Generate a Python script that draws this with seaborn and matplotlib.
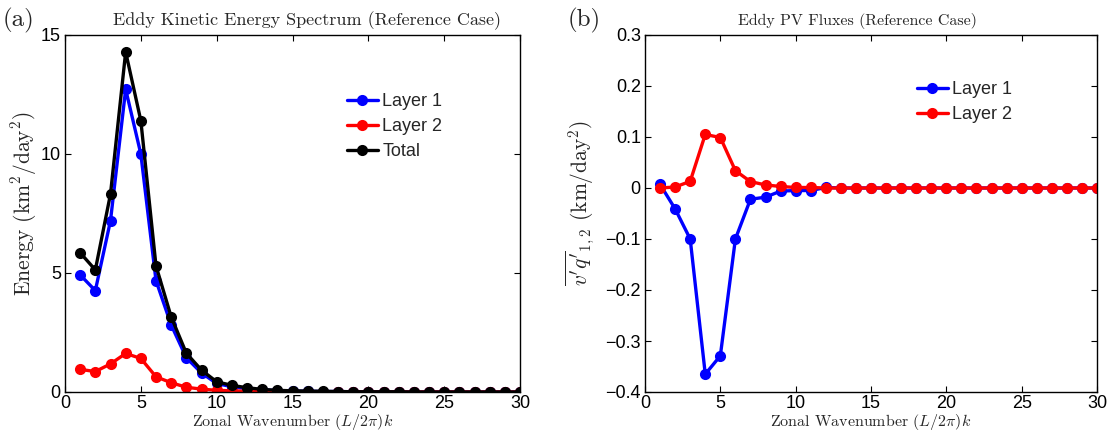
import numpy as np
import pandas as pd
import seaborn as sns
import matplotlib
matplotlib.use("Agg")
import matplotlib.pyplot as plt

sns.set_theme(style="white")
plt.rcParams['font.family'] = ['Liberation Sans', 'DejaVu Sans']
plt.rcParams['mathtext.fontset'] = 'cm'
plt.rcParams['axes.unicode_minus'] = True

k = list(range(1, 31))

# Panel (a): eddy kinetic energy spectrum
ke_layer1 = [4.92, 4.26, 7.20, 12.72, 10.0, 4.68, 2.82, 1.44, 0.80, 0.36, 0.22, 0.14, 0.09, 0.06,
             0.04, 0.03, 0.02, 0.02, 0.01, 0.01, 0.01, 0.01, 0.0, 0.0, 0.0, 0.0, 0.0, 0.0, 0.0, 0.0]
ke_layer2 = [0.95, 0.86, 1.18, 1.62, 1.41, 0.64, 0.39, 0.20, 0.12, 0.07, 0.05, 0.03, 0.02, 0.01,
             0.01, 0.01, 0.0, 0.0, 0.0, 0.0, 0.0, 0.0, 0.0, 0.0, 0.0, 0.0, 0.0, 0.0, 0.0, 0.0]
ke_total = [5.85, 5.13, 8.32, 14.29, 11.40, 5.30, 3.16, 1.63, 0.92, 0.43, 0.28, 0.18, 0.11, 0.07,
            0.05, 0.04, 0.03, 0.02, 0.01, 0.01, 0.01, 0.01, 0.0, 0.0, 0.0, 0.0, 0.0, 0.0, 0.0, 0.0]

# Panel (b): eddy PV fluxes
pv_layer1 = [0.007, -0.041, -0.100, -0.365, -0.329, -0.100, -0.022, -0.018, -0.006, -0.005, -0.005,
             0.001, 0.0, 0.0, 0.0, 0.0, 0.0, 0.0, 0.0, 0.0, 0.0, 0.0, 0.0, 0.0, 0.0, 0.0, 0.0, 0.0, 0.0, 0.0]
pv_layer2 = [0.0, 0.002, 0.013, 0.105, 0.099, 0.034, 0.0125, 0.006, 0.003, 0.001, 0.001,
             0.0, 0.0, 0.0, 0.0, 0.0, 0.0, 0.0, 0.0, 0.0, 0.0, 0.0, 0.0, 0.0, 0.0, 0.0, 0.0, 0.0, 0.0, 0.0]

series_a = ["Layer 1", "Layer 2", "Total"]
series_b = ["Layer 1", "Layer 2"]
colors_a = ["#0000ff", "#ff0000", "#000000"]
colors_b = ["#0000ff", "#ff0000"]

df_a = pd.DataFrame({
    "k": k * 3,
    "val": ke_layer1 + ke_layer2 + ke_total,
    "series": sum([[s] * 30 for s in series_a], []),
})
df_b = pd.DataFrame({
    "k": k * 2,
    "val": pv_layer1 + pv_layer2,
    "series": sum([[s] * 30 for s in series_b], []),
})

fig = plt.figure(figsize=(11.07, 4.34), dpi=100)
W, H = 1107, 434
ax1 = fig.add_axes([65 / W, 1 - 392 / H, (520 - 65) / W, (392 - 35) / H])
ax2 = fig.add_axes([645 / W, 1 - 392 / H, (1097 - 645) / W, (392 - 35) / H])

serif = 'cmr10'

for ax, df, ser, cols in [(ax1, df_a, series_a, colors_a), (ax2, df_b, series_b, colors_b)]:
    sns.lineplot(data=df, x="k", y="val", hue="series", hue_order=ser, palette=cols,
                 marker="o", markersize=6.5, linewidth=2.4, ax=ax, legend=False)
    for ln in ax.lines:
        c = ln.get_color()
        ln.set_markeredgecolor(c)
        ln.set_markerfacecolor(c)
        ln.set_markeredgewidth(1.5)
    for sp in ax.spines.values():
        sp.set_visible(True)
        sp.set_color("black")
        sp.set_linewidth(1.0)
    ax.tick_params(direction="in", length=4, width=0.8, top=True, right=True,
                   bottom=True, left=True, labelsize=13, colors="black", pad=3)
    ax.tick_params(axis="x", pad=2)
    ax.set_xlim(0, 30)
    ax.set_xticks([0, 5, 10, 15, 20, 25, 30])
    ax.set_xlabel(r"Zonal Wavenumber $(L/2\pi)k$", family=serif, fontsize=11.5, labelpad=0.5)
    ax.grid(False)

ax1.set_ylim(0, 15)
ax1.set_yticks([0, 5, 10, 15])
ax1.set_ylabel(r"Energy (km$^2$/day$^2$)", family=serif, fontsize=15.5)
ax1.yaxis.set_label_coords(-0.058, (392 - 204) / 357)

ax2.set_ylim(-0.4, 0.3)
ax2.set_yticks([-0.4, -0.3, -0.2, -0.1, 0, 0.1, 0.2, 0.3])
ax2.set_yticklabels(["\u22120.4", "\u22120.3", "\u22120.2", "\u22120.1", "0", "0.1", "0.2", "0.3"])
ax2.set_ylabel(r"$\overline{v'q'}_{1,2}$ (km/day$^2$)", family=serif, fontsize=15.5)
ax2.yaxis.set_label_coords(-0.108, (392 - 203) / 357)

fig.text(307 / W, 1 - 21 / H, "Eddy Kinetic Energy Spectrum (Reference Case)", family=serif,
         fontsize=13, ha="center", va="center")
fig.text(857 / W, 1 - 21 / H, "Eddy PV Fluxes (Reference Case)", family=serif,
         fontsize=11.5, ha="center", va="center")

leg_kw = dict(frameon=False, fontsize=13, handlelength=1.7, handletextpad=0.25,
              labelspacing=0.45, borderaxespad=0, borderpad=0, loc="upper left")
ax1.legend(handles=ax1.lines[:3], labels=series_a, bbox_to_anchor=(0.62, 0.838), **leg_kw)
ax2.legend(handles=ax2.lines[:2], labels=series_b, bbox_to_anchor=(0.602, 0.871), **leg_kw)

fig.text(3 / W, 1 - 20 / H, "(a)", family=serif, fontsize=18, va="center")
fig.text(568 / W, 1 - 20 / H, "(b)", family=serif, fontsize=18, va="center")

fig.savefig("out.png", dpi=100)
